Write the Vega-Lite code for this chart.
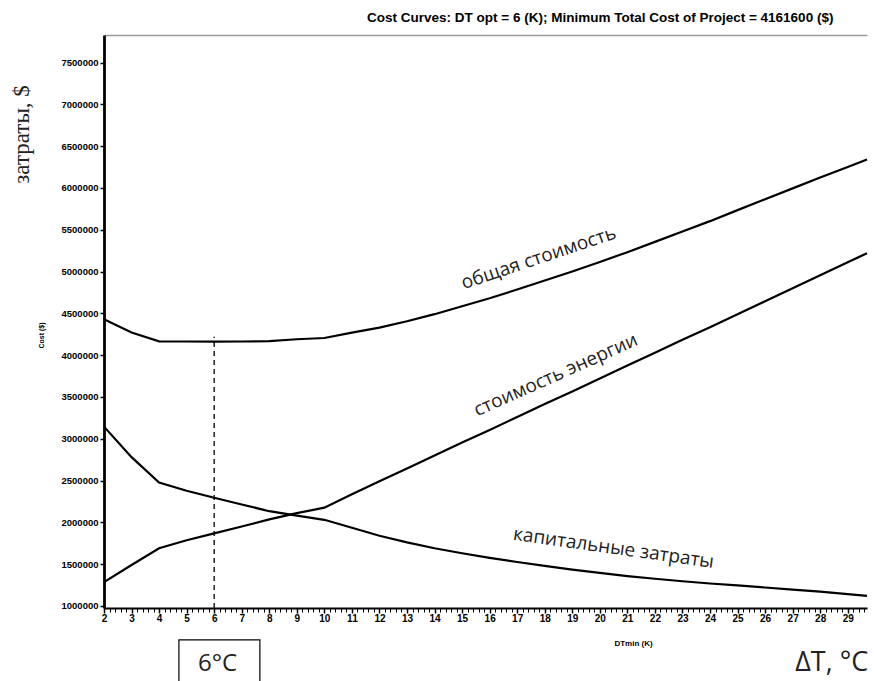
{
  "$schema": "https://vega.github.io/schema/vega-lite/v6.json",
  "width": 763,
  "height": 573,
  "autosize": {"type": "none"},
  "padding": {"left": 104, "top": 35, "right": 7, "bottom": 73},
  "background": "white",
  "config": {"view": {"stroke": null}, "font": "Liberation Sans"},
  "title": {
    "text": "Cost Curves: DT opt = 6 (K); Minimum Total Cost of Project = 4161600 ($)",
    "anchor": "end",
    "dx": -38,
    "offset": 11,
    "font": "Liberation Sans",
    "fontSize": 13.5,
    "fontWeight": "bold",
    "color": "black"
  },
  "layer": [
    {
      "data": {
        "values": [
          {"DT": 2, "cost": 1285000, "series": "energy"},
          {"DT": 3, "cost": 1490000, "series": "energy"},
          {"DT": 4, "cost": 1690000, "series": "energy"},
          {"DT": 5, "cost": 1785000, "series": "energy"},
          {"DT": 6, "cost": 1868000, "series": "energy"},
          {"DT": 7, "cost": 1950000, "series": "energy"},
          {"DT": 8, "cost": 2035000, "series": "energy"},
          {"DT": 9, "cost": 2110000, "series": "energy"},
          {"DT": 10, "cost": 2175000, "series": "energy"},
          {"DT": 11, "cost": 2335000, "series": "energy"},
          {"DT": 12, "cost": 2490000, "series": "energy"},
          {"DT": 13, "cost": 2645000, "series": "energy"},
          {"DT": 14, "cost": 2800000, "series": "energy"},
          {"DT": 15, "cost": 2955000, "series": "energy"},
          {"DT": 16, "cost": 3105000, "series": "energy"},
          {"DT": 17, "cost": 3260000, "series": "energy"},
          {"DT": 18, "cost": 3415000, "series": "energy"},
          {"DT": 19, "cost": 3565000, "series": "energy"},
          {"DT": 20, "cost": 3720000, "series": "energy"},
          {"DT": 21, "cost": 3875000, "series": "energy"},
          {"DT": 22, "cost": 4030000, "series": "energy"},
          {"DT": 23, "cost": 4185000, "series": "energy"},
          {"DT": 24, "cost": 4335000, "series": "energy"},
          {"DT": 25, "cost": 4490000, "series": "energy"},
          {"DT": 26, "cost": 4645000, "series": "energy"},
          {"DT": 27, "cost": 4800000, "series": "energy"},
          {"DT": 28, "cost": 4955000, "series": "energy"},
          {"DT": 29, "cost": 5110000, "series": "energy"},
          {"DT": 29.7, "cost": 5220000, "series": "energy"},
          {"DT": 2, "cost": 3145000, "series": "capital"},
          {"DT": 3, "cost": 2780000, "series": "capital"},
          {"DT": 4, "cost": 2475000, "series": "capital"},
          {"DT": 5, "cost": 2378000, "series": "capital"},
          {"DT": 6, "cost": 2293600, "series": "capital"},
          {"DT": 7, "cost": 2213000, "series": "capital"},
          {"DT": 8, "cost": 2133000, "series": "capital"},
          {"DT": 9, "cost": 2080000, "series": "capital"},
          {"DT": 10, "cost": 2030000, "series": "capital"},
          {"DT": 11, "cost": 1935000, "series": "capital"},
          {"DT": 12, "cost": 1840000, "series": "capital"},
          {"DT": 13, "cost": 1760000, "series": "capital"},
          {"DT": 14, "cost": 1690000, "series": "capital"},
          {"DT": 15, "cost": 1630000, "series": "capital"},
          {"DT": 16, "cost": 1575000, "series": "capital"},
          {"DT": 17, "cost": 1525000, "series": "capital"},
          {"DT": 18, "cost": 1478000, "series": "capital"},
          {"DT": 19, "cost": 1435000, "series": "capital"},
          {"DT": 20, "cost": 1395000, "series": "capital"},
          {"DT": 21, "cost": 1357000, "series": "capital"},
          {"DT": 22, "cost": 1325000, "series": "capital"},
          {"DT": 23, "cost": 1295000, "series": "capital"},
          {"DT": 24, "cost": 1268000, "series": "capital"},
          {"DT": 25, "cost": 1245000, "series": "capital"},
          {"DT": 26, "cost": 1220000, "series": "capital"},
          {"DT": 27, "cost": 1195000, "series": "capital"},
          {"DT": 28, "cost": 1170000, "series": "capital"},
          {"DT": 29, "cost": 1140000, "series": "capital"},
          {"DT": 29.7, "cost": 1120000, "series": "capital"},
          {"DT": 2, "cost": 4430000, "series": "total"},
          {"DT": 3, "cost": 4270000, "series": "total"},
          {"DT": 4, "cost": 4165000, "series": "total"},
          {"DT": 5, "cost": 4163000, "series": "total"},
          {"DT": 6, "cost": 4161600, "series": "total"},
          {"DT": 7, "cost": 4163000, "series": "total"},
          {"DT": 8, "cost": 4168000, "series": "total"},
          {"DT": 9, "cost": 4190000, "series": "total"},
          {"DT": 10, "cost": 4205000, "series": "total"},
          {"DT": 11, "cost": 4270000, "series": "total"},
          {"DT": 12, "cost": 4330000, "series": "total"},
          {"DT": 13, "cost": 4405000, "series": "total"},
          {"DT": 14, "cost": 4490000, "series": "total"},
          {"DT": 15, "cost": 4585000, "series": "total"},
          {"DT": 16, "cost": 4680000, "series": "total"},
          {"DT": 17, "cost": 4785000, "series": "total"},
          {"DT": 18, "cost": 4893000, "series": "total"},
          {"DT": 19, "cost": 5000000, "series": "total"},
          {"DT": 20, "cost": 5115000, "series": "total"},
          {"DT": 21, "cost": 5232000, "series": "total"},
          {"DT": 22, "cost": 5355000, "series": "total"},
          {"DT": 23, "cost": 5480000, "series": "total"},
          {"DT": 24, "cost": 5603000, "series": "total"},
          {"DT": 25, "cost": 5735000, "series": "total"},
          {"DT": 26, "cost": 5865000, "series": "total"},
          {"DT": 27, "cost": 5995000, "series": "total"},
          {"DT": 28, "cost": 6125000, "series": "total"},
          {"DT": 29, "cost": 6250000, "series": "total"},
          {"DT": 29.7, "cost": 6340000, "series": "total"}
        ]
      },
      "mark": {"type": "line", "color": "black", "strokeWidth": 2.2},
      "encoding": {
        "x": {
          "field": "DT",
          "type": "quantitative",
          "scale": {"domain": [2, 29.7], "nice": false, "zero": false},
          "axis": {
            "values": [2, 3, 4, 5, 6, 7, 8, 9, 10, 11, 12, 13, 14, 15, 16, 17, 18, 19, 20, 21, 22, 23, 24, 25, 26, 27, 28, 29],
            "format": "d",
            "grid": false,
            "labelFont": "Liberation Sans",
            "labelFontSize": 10,
            "labelFontWeight": "bold",
            "labelColor": "black",
            "labelPadding": 0,
            "labelFlush": false,
            "tickColor": "black",
            "tickSize": 5,
            "tickWidth": 1.5,
            "domainColor": "black",
            "domainWidth": 2.2,
            "title": "DTmin (K)",
            "titleFont": "Liberation Sans",
            "titleFontSize": 8,
            "titleFontWeight": "bold",
            "titleColor": "black",
            "titleX": 529,
            "titleY": 35,
            "titleBaseline": "middle",
            "titleAlign": "center"
          }
        },
        "y": {
          "field": "cost",
          "type": "quantitative",
          "scale": {"domain": [975000, 7830000], "nice": false, "zero": false},
          "axis": {
            "values": [1000000, 1500000, 2000000, 2500000, 3000000, 3500000, 4000000, 4500000, 5000000, 5500000, 6000000, 6500000, 7000000, 7500000],
            "format": "d",
            "grid": false,
            "labelFont": "Liberation Sans",
            "labelFontSize": 9.5,
            "labelFontWeight": "bold",
            "labelColor": "black",
            "labelPadding": 2,
            "tickColor": "black",
            "tickSize": 4,
            "tickWidth": 1.5,
            "domainColor": "black",
            "domainWidth": 2.8,
            "title": "Cost ($)",
            "titleFont": "Liberation Sans",
            "titleFontSize": 7,
            "titleFontWeight": "bold",
            "titleColor": "black",
            "titleX": -63,
            "titleY": 300,
            "titleAngle": 270,
            "titleAlign": "center",
            "titleBaseline": "middle"
          }
        },
        "detail": {"field": "series", "type": "nominal"}
      }
    },
    {
      "data": {"values": [{}]},
      "mark": {"type": "rule", "color": "black", "strokeWidth": 1.3, "strokeDash": [5, 4]},
      "encoding": {
        "x": {
          "datum": 6,
          "type": "quantitative",
          "axis": {
            "orient": "bottom",
            "values": [2, 2.2, 2.4, 2.6, 2.8, 3, 3.2, 3.4, 3.6, 3.8, 4, 4.2, 4.4, 4.6, 4.8, 5, 5.2, 5.4, 5.6, 5.8, 6, 6.2, 6.4, 6.6, 6.8, 7, 7.2, 7.4, 7.6, 7.8, 8, 8.2, 8.4, 8.6, 8.8, 9, 9.2, 9.4, 9.6, 9.8, 10, 10.2, 10.4, 10.6, 10.8, 11, 11.2, 11.4, 11.6, 11.8, 12, 12.2, 12.4, 12.6, 12.8, 13, 13.2, 13.4, 13.6, 13.8, 14, 14.2, 14.4, 14.6, 14.8, 15, 15.2, 15.4, 15.6, 15.8, 16, 16.2, 16.4, 16.6, 16.8, 17, 17.2, 17.4, 17.6, 17.8, 18, 18.2, 18.4, 18.6, 18.8, 19, 19.2, 19.4, 19.6, 19.8, 20, 20.2, 20.4, 20.6, 20.8, 21, 21.2, 21.4, 21.6, 21.8, 22, 22.2, 22.4, 22.6, 22.8, 23, 23.2, 23.4, 23.6, 23.8, 24, 24.2, 24.4, 24.6, 24.8, 25, 25.2, 25.4, 25.6, 25.8, 26, 26.2, 26.4, 26.6, 26.8, 27, 27.2, 27.4, 27.6, 27.8, 28, 28.2, 28.4, 28.6, 28.8, 29, 29.2, 29.4, 29.6],
            "labels": false,
            "domain": false,
            "grid": false,
            "ticks": true,
            "tickColor": "black",
            "tickSize": 4,
            "tickWidth": 1,
            "title": null
          }
        },
        "y": {"datum": 975000, "type": "quantitative", "axis": null},
        "y2": {"datum": 4220000}
      }
    },
    {
      "data": {"values": [{}]},
      "mark": {"type": "text", "text": "общая  стоимость", "font": "Open Sans", "fontSize": 19, "color": "#222", "angle": 341.5, "align": "center", "baseline": "middle"},
      "encoding": {
        "x": {
          "datum": 17.78,
          "type": "quantitative",
          "axis": {
            "orient": "top",
            "labels": false,
            "ticks": false,
            "grid": false,
            "domain": true,
            "domainColor": "#9a9a9a",
            "domainWidth": 1.5,
            "title": null
          }
        },
        "y": {"datum": 5163000, "type": "quantitative", "axis": null}
      }
    },
    {
      "data": {"values": [{}]},
      "mark": {"type": "text", "text": "стоимость энергии", "font": "Open Sans", "fontSize": 19, "color": "#222", "angle": 336, "align": "center", "baseline": "middle"},
      "encoding": {
        "x": {"datum": 18.4, "type": "quantitative", "axis": null},
        "y": {"datum": 3763000, "type": "quantitative", "axis": null}
      }
    },
    {
      "data": {"values": [{}]},
      "mark": {"type": "text", "text": "капитальные  затраты", "font": "Open Sans", "fontSize": 19, "color": "#222", "angle": 8, "align": "center", "baseline": "middle"},
      "encoding": {
        "x": {"datum": 20.5, "type": "quantitative", "axis": null},
        "y": {"datum": 1694000, "type": "quantitative", "axis": null}
      }
    },
    {
      "data": {"values": [{}]},
      "mark": {"type": "text", "text": "затраты, $", "font": "Liberation Serif", "fontSize": 23, "color": "#222", "angle": 270, "align": "center", "baseline": "middle"},
      "encoding": {
        "x": {"datum": -0.975, "type": "quantitative", "axis": null},
        "y": {"datum": 6640000, "type": "quantitative", "axis": null}
      }
    },
    {
      "data": {"values": [{}]},
      "mark": {"type": "rect", "fill": "white", "fillOpacity": 0, "stroke": "black", "strokeWidth": 1.2},
      "encoding": {
        "x": {"datum": 4.72, "type": "quantitative", "axis": null},
        "x2": {"datum": 7.66},
        "y": {"datum": 593000, "type": "quantitative", "axis": null},
        "y2": {"datum": -100000}
      }
    },
    {
      "data": {"values": [{}]},
      "mark": {"type": "text", "text": "6°C", "font": "Open Sans", "fontSize": 24, "color": "#222", "align": "center", "baseline": "middle"},
      "encoding": {
        "x": {"datum": 6.12, "type": "quantitative", "axis": null},
        "y": {"datum": 306000, "type": "quantitative", "axis": null}
      }
    },
    {
      "data": {"values": [{}]},
      "mark": {"type": "text", "text": "ΔT, °C", "font": "Open Sans", "fontSize": 27, "color": "#222", "align": "center", "baseline": "middle"},
      "encoding": {
        "x": {"datum": 28.42, "type": "quantitative", "axis": null},
        "y": {"datum": 318000, "type": "quantitative", "axis": null}
      }
    }
  ],
  "resolve": {"axis": {"x": "independent", "y": "independent"}}
}
